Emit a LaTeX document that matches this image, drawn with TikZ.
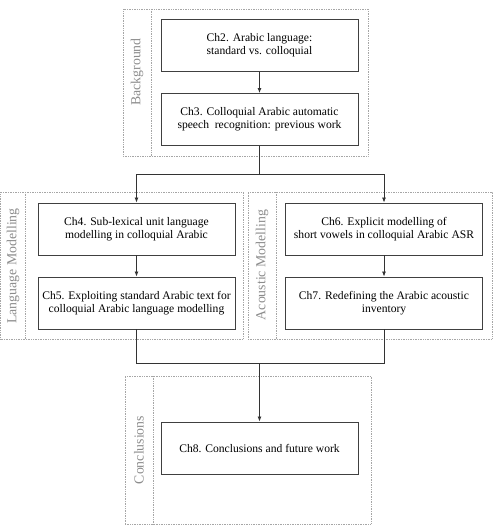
\documentclass[tikz,border=0pt]{standalone}
\usepackage{fontspec}
\setmainfont{Liberation Serif}
\usetikzlibrary{arrows.meta}

\begin{document}
\begin{tikzpicture}[x=1pt, y=-1pt,
  chapbox/.style={draw=black!75, line width=0.9pt, rectangle, minimum width=197pt, minimum height=52pt, inner sep=0pt, align=center, font=\fontsize{11.6}{13}\selectfont},
  groupbox/.style={draw=black!35, densely dotted, line width=0.7pt, rectangle, inner sep=0pt},
  grouplabel/.style={black!45, rotate=90, font=\fontsize{13.8}{15}\selectfont},
  link/.style={draw=black!80, line width=0.8pt},
  arr/.style={link, -{Latex[length=5pt, width=4pt]}}]
\useasboundingbox (0,0) rectangle (498,527);

% Background
\node[groupbox, minimum width=245pt, minimum height=147pt] (bggroup) at (245.5,82.5) {};
\draw[groupbox] (151,9) -- (151,156);
\node[grouplabel] (bglabel) at (137,72) {Background};
\node[chapbox] (ch2) at (259.5,45.5) {Ch2. Arabic language:\\standard vs. colloquial};
\node[chapbox] (ch3) at (259.5,119.5) {Ch3. Colloquial Arabic automatic\\speech\ \ recognition: previous work};

% Language Modelling
\node[groupbox, minimum width=242.5pt, minimum height=147pt] (lmgroup) at (121.75,265.5) {};
\draw[groupbox] (25.5,192) -- (25.5,339);
\node[grouplabel] (lmlabel) at (13,266) {Language Modelling};
\node[chapbox] (ch4) at (136.5,229) {Ch4. Sub-lexical unit language\\modelling in colloquial Arabic};
\node[chapbox] (ch5) at (136.5,303) {Ch5. Exploiting standard Arabic text for\\colloquial Arabic language modelling};

% Acoustic Modelling
\node[groupbox, minimum width=244pt, minimum height=147pt] (amgroup) at (370,265.5) {};
\draw[groupbox] (276,192) -- (276,339);
\node[grouplabel] (amlabel) at (262,265) {Acoustic Modelling};
\node[chapbox] (ch6) at (384,229) {Ch6. Explicit modelling of\\short vowels in colloquial Arabic ASR};
\node[chapbox] (ch7) at (384,303) {Ch7. Redefining the Arabic acoustic\\inventory};

% Conclusions
\node[groupbox, minimum width=246pt, minimum height=148pt] (cogroup) at (248,450) {};
\draw[groupbox] (153,376) -- (153,524);
\node[grouplabel] (colabel) at (139,450) {Conclusions};
\node[chapbox] (ch8) at (259.5,448) {Ch8. Conclusions and future work};

% Connectors
\coordinate (split) at (259.5,174);
\coordinate (join) at (259.5,363);
\draw[arr] (ch2) -- (ch3);
\draw[link] (ch3) -- (split);
\draw[arr] (split) -| (ch4);
\draw[arr] (split) -| (ch6);
\draw[arr] (ch4) -- (ch5);
\draw[arr] (ch6) -- (ch7);
\draw[link] (ch5) |- (join);
\draw[link] (ch7) |- (join);
\draw[arr] (join) -- (ch8);
\end{tikzpicture}
\end{document}
